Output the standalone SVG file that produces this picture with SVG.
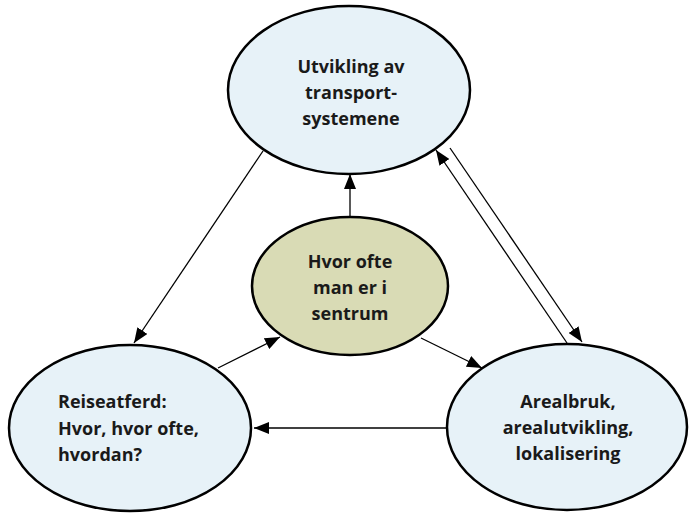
<svg xmlns="http://www.w3.org/2000/svg" width="689" height="515" viewBox="0 0 689 515">
<style>
.node ellipse{stroke:#000;stroke-width:2.5}
.blue{fill:#e7f2f8}
.olive{fill:#d9dbb5}
.lbl{font-family:"Open Sans","Liberation Sans",sans-serif;font-weight:700;font-size:18px;fill:#1a1a1a}
.mid{text-anchor:middle}
.edge{stroke:#000;stroke-width:1.3;fill:none;marker-end:url(#arr)}
</style>
<defs>
<marker id="arr" markerUnits="userSpaceOnUse" viewBox="0 0 15 12" refX="15" refY="6" markerWidth="15" markerHeight="12" orient="auto">
<path d="M0,0 L15,6 L0,12 Z" fill="#000"/>
</marker>
</defs>
<rect width="689" height="515" fill="#fff"/>
<g id="connectors">
<line class="edge" x1="263" y1="151" x2="134" y2="343"/>
<line class="edge" x1="218" y1="368" x2="280" y2="337"/>
<line class="edge" x1="350" y1="217" x2="350" y2="174"/>
<line class="edge" x1="421" y1="338" x2="482" y2="368"/>
<line class="edge" x1="447" y1="428" x2="254" y2="428"/>
<line class="edge" x1="450" y1="148" x2="582" y2="342"/>
<line class="edge" x1="567" y1="343" x2="436" y2="150"/>
</g>
<g id="node-transport" class="node">
<ellipse class="blue" cx="349" cy="90" rx="121" ry="84"/>
<text class="lbl mid" x="351" y="72.5">Utvikling av</text>
<text class="lbl mid" x="351" y="98.5">transport-</text>
<text class="lbl mid" x="351" y="124.5">systemene</text>
</g>
<g id="node-sentrum" class="node">
<ellipse class="olive" cx="350" cy="286" rx="98" ry="69"/>
<text class="lbl mid" x="350" y="268">Hvor ofte</text>
<text class="lbl mid" x="350" y="294">man er i</text>
<text class="lbl mid" x="350" y="320">sentrum</text>
</g>
<g id="node-reiseatferd" class="node">
<ellipse class="blue" cx="130" cy="428" rx="121" ry="83"/>
<text class="lbl" x="58" y="408">Reiseatferd:</text>
<text class="lbl" x="58" y="435">Hvor, hvor ofte,</text>
<text class="lbl" x="58" y="461">hvordan?</text>
</g>
<g id="node-arealbruk" class="node">
<ellipse class="blue" cx="567" cy="427" rx="120" ry="83"/>
<text class="lbl mid" x="568" y="408">Arealbruk,</text>
<text class="lbl mid" x="568" y="434">arealutvikling,</text>
<text class="lbl mid" x="568" y="460">lokalisering</text>
</g>
</svg>
